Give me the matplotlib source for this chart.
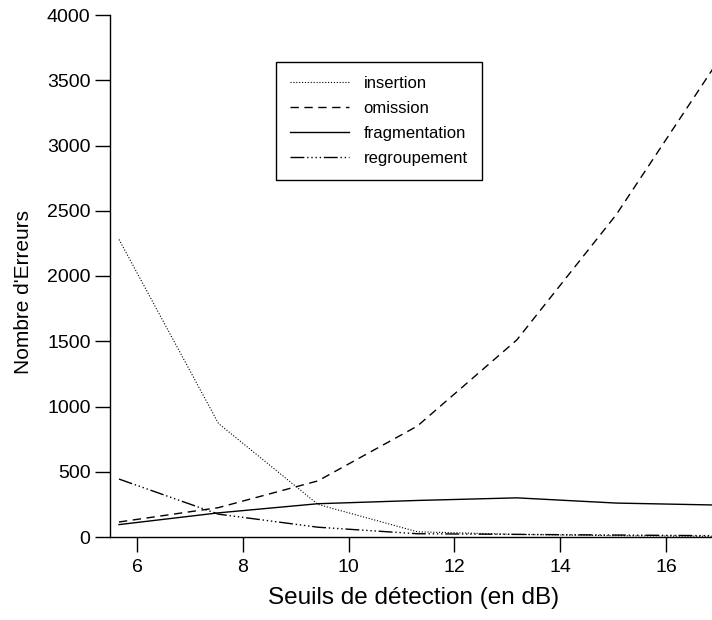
import matplotlib
matplotlib.use("Agg")
import matplotlib.pyplot as plt

plt.rcParams['font.family'] = ['Liberation Sans', 'DejaVu Sans']

# seuils de détection (dB)
seuils = [5.66, 7.54, 9.42, 11.30, 13.18, 15.06, 16.94]

insertion = [2280, 870, 250, 40, 20, 10, 5]
omission = [115, 225, 430, 850, 1510, 2470, 3620]
fragmentation = [95, 185, 255, 280, 300, 260, 245]
regroupement = [444, 175, 75, 25, 20, 15, 10]

series = [
    ('insertion', insertion, (0, (1, 1.6)), 0.8),
    ('omission', omission, (0, (6, 4)), 1.0),
    ('fragmentation', fragmentation, '-', 1.0),
    ('regroupement', regroupement, (0, (10, 2, 1, 2, 1, 2, 1, 2, 1, 2)), 1.0),
]

fig = plt.figure(figsize=(7.12, 6.2), dpi=100)
ax = fig.add_axes([110 / 712, 83 / 620, 602 / 712, 522 / 620])

for label, vals, ls, lw in series:
    ax.plot(seuils, vals, color='black', linestyle=ls, linewidth=lw, label=label)

ax.set_xlim(5.49, 16.87)
ax.set_ylim(0, 4000)
ax.set_xticks([6, 8, 10, 12, 14, 16])
ax.set_yticks(range(0, 4001, 500))
ax.tick_params(direction='out', length=10.5, width=1, labelsize=14)
ax.tick_params(axis='y', pad=3.5)
ax.tick_params(axis='x', pad=5)

for side in ['top', 'right']:
    ax.spines[side].set_visible(False)
for side in ['left', 'bottom']:
    ax.spines[side].set_linewidth(1)

ax.set_xlabel('Seuils de détection (en dB)', fontsize=17.5)
ax.set_ylabel("Nombre d'Erreurs", fontsize=15)
ax.xaxis.set_label_coords(0.504, -0.095)
ax.yaxis.set_label_coords(-0.128, 0.469)

leg = ax.legend(loc='upper left', bbox_to_anchor=(276 / 712, 1 - 62 / 620),
                bbox_transform=fig.transFigure, borderaxespad=0,
                fontsize=12, handlelength=3.55, handletextpad=0.85,
                labelspacing=0.6, borderpad=0.85, fancybox=False,
                framealpha=1, edgecolor='black')
leg.get_frame().set_linewidth(1)

fig.savefig('out.png', dpi=100)
